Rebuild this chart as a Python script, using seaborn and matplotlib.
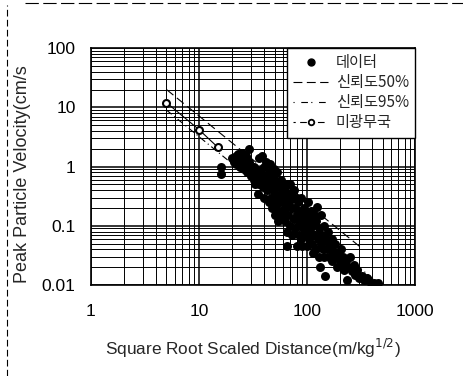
import numpy as np
import pandas as pd
import matplotlib
matplotlib.use("Agg")
import matplotlib.pyplot as plt
import seaborn as sns
from matplotlib.lines import Line2D
from matplotlib.ticker import LogLocator, FixedLocator, NullFormatter

# measured data (scaled distance, PPV)
data_x = [16, 16, 20, 21, 22, 22, 23, 23, 24, 24, 25, 25, 26, 26, 27, 27, 28, 28, 29, 29, 30, 30,
          31, 32, 32, 33, 34, 35, 35, 36, 36, 37, 38, 38, 39, 40, 40, 41, 42, 42, 43, 44, 44, 45, 45,
          46, 46, 47, 47, 48, 49, 49, 50, 50, 51, 52, 52, 53, 54, 54, 55, 56, 57, 57, 58, 59, 60, 60,
          62, 62, 63, 64, 65, 65, 66, 67, 68, 69, 70, 70, 72, 72, 74, 75, 76, 77, 78, 80, 80, 80,
          82, 83, 84, 85, 86, 88, 88, 90, 90, 92, 93, 95, 96, 98, 100, 100, 102, 104, 105, 107, 108, 110,
          112, 114, 115, 118, 120, 122, 124, 125, 128, 130, 132, 134, 136, 138, 140, 143, 145, 147, 150,
          152, 155, 158, 160,
          165, 170, 172, 175, 180, 185, 190, 195, 200, 205, 210, 215, 220, 230, 234, 240, 250, 260,
          270, 280, 290, 300,
          320, 340, 360, 390, 420, 450]
data_y = [1.0, 0.75, 1.4, 1.2, 1.5, 1.1, 1.3, 1.6, 1.0, 1.4, 1.2, 1.7, 0.9, 1.3, 1.1, 1.5, 1.0, 0.8, 2.0, 1.2, 0.9, 0.7,
          0.8, 0.6, 1.0, 0.5, 0.9, 0.35, 0.7, 1.4, 0.5, 0.8, 1.5, 0.6, 0.45, 1.0, 0.3, 0.7, 0.55, 1.2, 0.4, 0.25, 0.8, 1.1, 0.6,
          0.5, 0.3, 0.2, 0.7, 0.4, 0.9, 0.25, 0.6, 0.15, 0.35, 0.5, 0.2, 0.8, 0.3, 0.12, 0.45, 0.25, 0.6, 0.18, 0.35, 0.15, 0.5, 0.25,
          0.4, 0.12, 0.2, 0.3, 0.08, 0.045, 0.5, 0.15, 0.25, 0.5, 0.1, 0.35, 0.2, 0.07, 0.3, 0.13, 0.4, 0.09, 0.2, 0.045, 0.15, 0.3,
          0.1, 0.25, 0.07, 0.18, 0.12, 0.3, 0.06, 0.15, 0.045, 0.09, 0.2, 0.12, 0.07, 0.17, 0.045, 0.1, 0.25, 0.06, 0.13, 0.08, 0.18, 0.05,
          0.1, 0.035, 0.15, 0.07, 0.04, 0.12, 0.21, 0.06, 0.03, 0.09, 0.02, 0.05, 0.15, 0.07, 0.04, 0.1, 0.03, 0.014, 0.06,
          0.04, 0.08, 0.03, 0.05,
          0.04, 0.06, 0.025, 0.035, 0.05, 0.03, 0.02, 0.035, 0.025, 0.04, 0.02, 0.03, 0.018, 0.025, 0.012, 0.02, 0.03, 0.017,
          0.022, 0.015, 0.018, 0.013,
          0.014, 0.012, 0.013, 0.011, 0.011, 0.011]

# regression lines
conf50_x = [5, 320]
conf50_y = [20, 0.042]
conf95_x = [5, 450]
conf95_y = [9, 0.011]

# USBM reference points
usbm_x = [5, 10, 15]
usbm_y = [12, 4.2, 2.1]

legend_labels = ["데이터", "신뢰도50%", "신뢰도95%", "미광무국"]

sns.set_style("white")
plt.rcParams["font.family"] = ["Liberation Sans", "Noto Sans CJK KR", "DejaVu Sans"]

fig = plt.figure(figsize=(4.63, 3.76), dpi=100)
ax = fig.add_axes([0.1965, 0.242, 0.70, 0.630])

df = pd.DataFrame({"x": data_x, "y": data_y})
sns.scatterplot(data=df, x="x", y="y", ax=ax, color="black", s=42,
                edgecolor="black", linewidth=0, zorder=4)

sns.lineplot(x=conf50_x, y=conf50_y, ax=ax, color="black", lw=0.8,
             linestyle=(0, (8, 4)), zorder=5)
sns.lineplot(x=conf95_x, y=conf95_y, ax=ax, color="black", lw=0.8,
             linestyle=(0, (6, 3, 1, 3)), zorder=5)
ax.plot(usbm_x, usbm_y, color="black", lw=0.8, marker="o", ms=5,
        mfc="white", mec="black", mew=1.5, zorder=6)

ax.set_xscale("log")
ax.set_yscale("log")
ax.set_xlim(1, 1000)
ax.set_ylim(0.01, 100)

ax.xaxis.set_major_locator(FixedLocator([1, 10, 100, 1000]))
ax.yaxis.set_major_locator(FixedLocator([0.01, 0.1, 1, 10, 100]))
ax.set_xticklabels(["1", "10", "100", "1000"])
ax.set_yticklabels(["0.01", "0.1", "1", "10", "100"])
ax.xaxis.set_minor_locator(LogLocator(base=10, subs=np.arange(2, 10)))
ax.yaxis.set_minor_locator(LogLocator(base=10, subs=np.arange(2, 10)))
ax.xaxis.set_minor_formatter(NullFormatter())
ax.yaxis.set_minor_formatter(NullFormatter())
ax.tick_params(which="both", length=0, labelsize=12.5, colors="black")
ax.tick_params(axis="x", pad=14)
ax.tick_params(axis="y", pad=11)

ax.grid(True, which="major", color="black", lw=1.1)
ax.grid(True, which="minor", color="black", lw=0.7)
ax.set_axisbelow(True)
for sp in ax.spines.values():
    sp.set_color("black")
    sp.set_linewidth(1.2)

ax.set_xlabel("")
ax.set_ylabel("")
fig.text(0.547, 0.074, "Square Root Scaled Distance(m/kg$^{1/2}$)", ha="center",
         va="center", fontsize=12.4)
# label is cut off at the top in the source
fig.text(0.048, 1 - 283 / 376, "Peak Particle Velocity(cm/s", rotation=90,
         ha="center", va="bottom", fontsize=13)

handles = [
    Line2D([], [], color="black", marker="o", ls="none", ms=5),
    Line2D([], [], color="black", lw=0.8, ls=(0, (8, 4))),
    Line2D([], [], color="black", lw=0.8, ls=(0, (1, 6, 6, 3))),
    Line2D([], [], color="black", lw=0.8, ls=(0, (2, 4, 6, 4)), marker="o", ms=4,
           mfc="white", mec="black", mew=1.3, markevery=[0]),
]
leg = ax.legend(handles, legend_labels, loc="upper right", frameon=True, fancybox=False,
                framealpha=1, edgecolor="black", handlelength=2.3, handletextpad=0.5,
                borderaxespad=0, labelspacing=0.2, borderpad=0.4,
                prop={"family": ["Noto Sans CJK KR", "DejaVu Sans"], "size": 11})
leg.get_frame().set_linewidth(1.0)
leg.set_zorder(10)

# scanned frame edges
fig.add_artist(Line2D([7 / 463, 7 / 463], [0, 1 - 5 / 376], transform=fig.transFigure,
                      color="black", lw=0.8, ls=(0, (6, 3))))
fig.add_artist(Line2D([25 / 463, 1], [1 - 3 / 376, 1 - 3 / 376], transform=fig.transFigure,
                      color="black", lw=0.8, ls=(0, (12, 4))))

fig.savefig("out.png", dpi=100)
